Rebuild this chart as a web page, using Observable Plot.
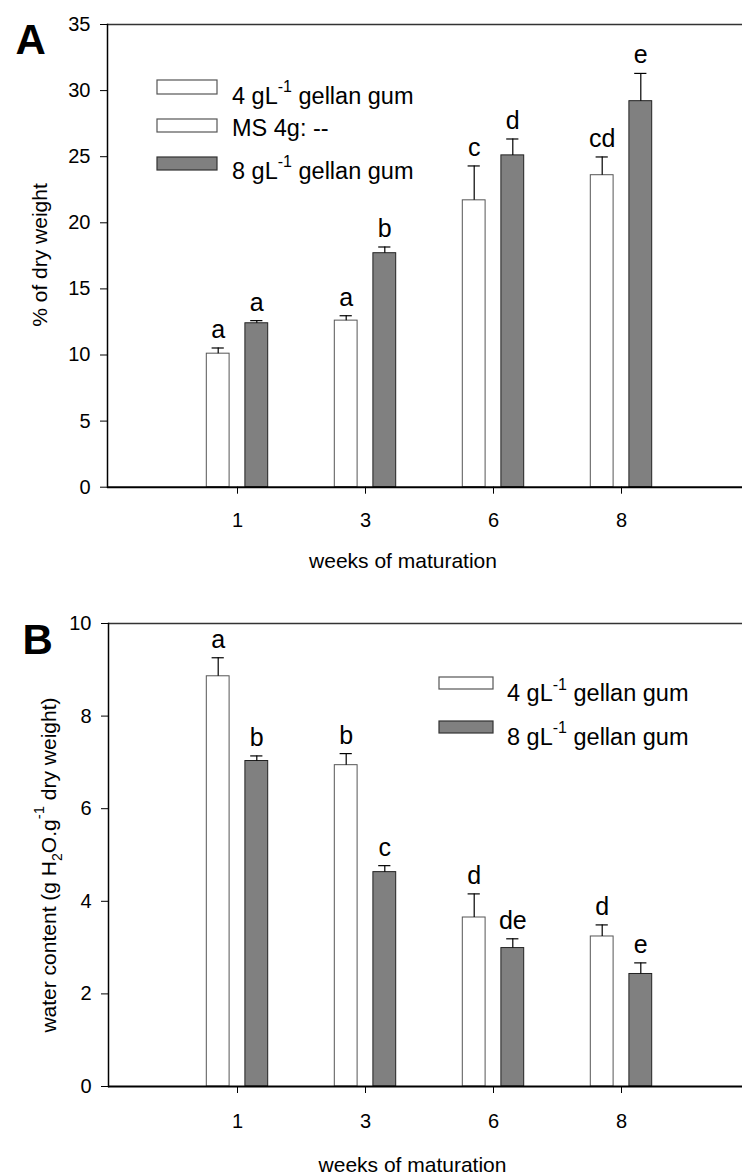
<!DOCTYPE html>
<html>
<head>
<meta charset="utf-8">
<script src="https://cdn.jsdelivr.net/npm/d3@7"></script>
<script src="https://cdn.jsdelivr.net/npm/@observablehq/plot@0.6"></script>
<style>
  html, body { margin: 0; padding: 0; background: white; }
  #chart svg { display: block; }
</style>
</head>
<body>
<div id="chart"></div>
<script>
// ---- data ----
const weeks = ["1", "3", "6", "8"];

const dry4 = [10.1, 12.6, 21.7, 23.6];
const dry4Err = [0.43, 0.37, 2.6, 1.38];
const dry4Letters = ["a", "a", "c", "cd"];
const dry8 = [12.4, 17.7, 25.1, 29.2];
const dry8Err = [0.2, 0.47, 1.24, 2.1];
const dry8Letters = ["a", "b", "d", "e"];
const dryTicks = [0, 5, 10, 15, 20, 25, 30, 35];

const water4 = [8.86, 6.94, 3.65, 3.24];
const water4Err = [0.4, 0.25, 0.51, 0.25];
const water4Letters = ["a", "b", "d", "d"];
const water8 = [7.03, 4.63, 2.99, 2.43];
const water8Err = [0.11, 0.14, 0.2, 0.24];
const water8Letters = ["b", "c", "de", "e"];
const waterTicks = [0, 2, 4, 6, 8, 10];

const xLabel = "weeks of maturation";
const dryLabel = "% of dry weight";

const FONT = "'Liberation Sans', Arial, Helvetica, sans-serif";
const WHITE = "white", GREY = "#808080";

function rows(means, errs, letters) {
  return weeks.map((w, i) => ({week: w, mean: means[i], err: errs[i], top: means[i] + errs[i], letter: letters[i]}));
}

function seriesMarks(data, fill, stroke, dx) {
  return [
    Plot.barY(data, {x: "week", y: "mean", fill, stroke, strokeWidth: 1, insetLeft: 52.6, insetRight: 52.6, dx}),
    Plot.ruleX(data, {x: "week", y1: "mean", y2: "top", stroke: "black", strokeWidth: 1.2, dx}),
    Plot.tickY(data, {x: "week", y: "top", stroke: "black", strokeWidth: 1.2, insetLeft: 57.9, insetRight: 57.9, dx}),
    Plot.text(data, {x: "week", y: "top", text: "letter", dx, dy: -10, lineAnchor: "bottom", fontSize: 25, fill: "black"})
  ];
}

function panel({height, marginLeft, marginTop, marginBottom, yMax, ticks, s4, s8, letter, letterDx, letterDy, xLabelDx, xLabelDy, tickPadding}) {
  return Plot.plot({
    width: 742,
    height,
    marginLeft,
    marginRight: 0,
    marginTop,
    marginBottom,
    style: {fontFamily: FONT, fontSize: "20px", color: "black", background: "white", overflow: "visible"},
    x: {domain: weeks, range: [107, 751], padding: 0, paddingOuter: 0.5},
    y: {domain: [0, yMax]},
    marks: [
      ...seriesMarks(s4, WHITE, "#555", -19.3),
      ...seriesMarks(s8, GREY, "#222", 19.3),
      Plot.ruleY([yMax], {stroke: "#333", strokeWidth: 1.5}),
      Plot.ruleY([0], {stroke: "black", strokeWidth: 2}),
      Plot.frame({anchor: "left", stroke: "black", strokeWidth: 1.5}),
      Plot.axisY({ticks, tickSize: 7, tickPadding: 10, label: null, fontSize: 20}),
      Plot.axisX({tickSize: 7, tickPadding, label: null, fontSize: 20}),
      Plot.text([xLabel], {frameAnchor: "bottom", dx: xLabelDx, dy: xLabelDy, lineAnchor: "bottom", fontSize: 21}),
      Plot.text([letter], {frameAnchor: "top-left", dx: letterDx, dy: letterDy, textAnchor: "start", lineAnchor: "bottom", fontSize: 42, fontWeight: "bold"})
    ]
  });
}

const plotA = panel({
  height: 585, marginLeft: 107, marginTop: 24, marginBottom: 98.3, yMax: 35, ticks: dryTicks,
  s4: rows(dry4, dry4Err, dry4Letters), s8: rows(dry8, dry8Err, dry8Letters),
  letter: "A", letterDx: -92, letterDy: 29, xLabelDx: -22, xLabelDy: 80.5, tickPadding: 18.5
});

const plotB = panel({
  height: 589, marginLeft: 108, marginTop: 38, marginBottom: 88, yMax: 10, ticks: waterTicks,
  s4: rows(water4, water4Err, water4Letters), s8: rows(water8, water8Err, water8Letters),
  letter: "B", letterDx: -86, letterDy: 30, xLabelDx: -13, xLabelDy: 85.5, tickPadding: 20.5
});

const chart = document.getElementById("chart");
chart.appendChild(plotA);
chart.appendChild(plotB);

// ---- legends & rich-text labels (with super/subscripts) ----
function legend(svg, items, boxX, boxW, textX) {
  const g = d3.select(svg).append("g")
    .attr("font-family", FONT).attr("fill", "black").attr("text-anchor", "start");
  for (const it of items) {
    g.append("rect").attr("x", boxX).attr("y", it.boxY).attr("width", boxW).attr("height", it.boxH)
      .attr("fill", it.fill).attr("stroke", it.fill === WHITE ? "#555" : "#333").attr("stroke-width", 1.2);
    const t = g.append("text").attr("x", textX).attr("y", it.textY).attr("font-size", 23.5);
    let pendingDy = 0;
    for (const p of it.parts) {
      if (typeof p === "string") {
        const s = t.append("tspan").text(p);
        if (pendingDy) { s.attr("dy", pendingDy); pendingDy = 0; }
      } else {
        t.append("tspan").attr("font-size", 16).attr("dy", -11.5).text(p.superscript);
        pendingDy = 11.5;
      }
    }
  }
}

const lab4 = ["4 gL", {superscript: "-1"}, " gellan gum"];
const lab8 = ["8 gL", {superscript: "-1"}, " gellan gum"];
const labMS = ["MS 4g: --"];

legend(plotA, [
  {boxY: 80, boxH: 14, fill: WHITE, textY: 103.5, parts: lab4},
  {boxY: 119, boxH: 13, fill: WHITE, textY: 135.5, parts: labMS},
  {boxY: 157, boxH: 13, fill: GREY, textY: 178.5, parts: lab8}
], 157, 60, 232);

legend(plotB, [
  {boxY: 92, boxH: 12, fill: WHITE, textY: 116, parts: lab4},
  {boxY: 136, boxH: 12, fill: GREY, textY: 159.5, parts: lab8}
], 439, 54, 507);

// y label of panel A
d3.select(plotA).append("text")
  .attr("font-family", FONT).attr("font-size", 21).attr("fill", "black")
  .attr("text-anchor", "middle")
  .attr("transform", "translate(47,255) rotate(-90)")
  .text(dryLabel);

// y label of panel B with subscript / superscript
{
  const t = d3.select(plotB).append("text")
    .attr("font-family", FONT).attr("font-size", 21).attr("fill", "black")
    .attr("text-anchor", "middle")
    .attr("transform", "translate(56,280) rotate(-90)");
  t.append("tspan").text("water content (g H");
  t.append("tspan").attr("font-size", 14).attr("dy", 6).text("2");
  t.append("tspan").attr("dy", -6).text("O.g");
  t.append("tspan").attr("font-size", 15).attr("dy", -12).text("-1");
  t.append("tspan").attr("dy", 12).text(" dry weight)");
}
</script>
</body>
</html>
